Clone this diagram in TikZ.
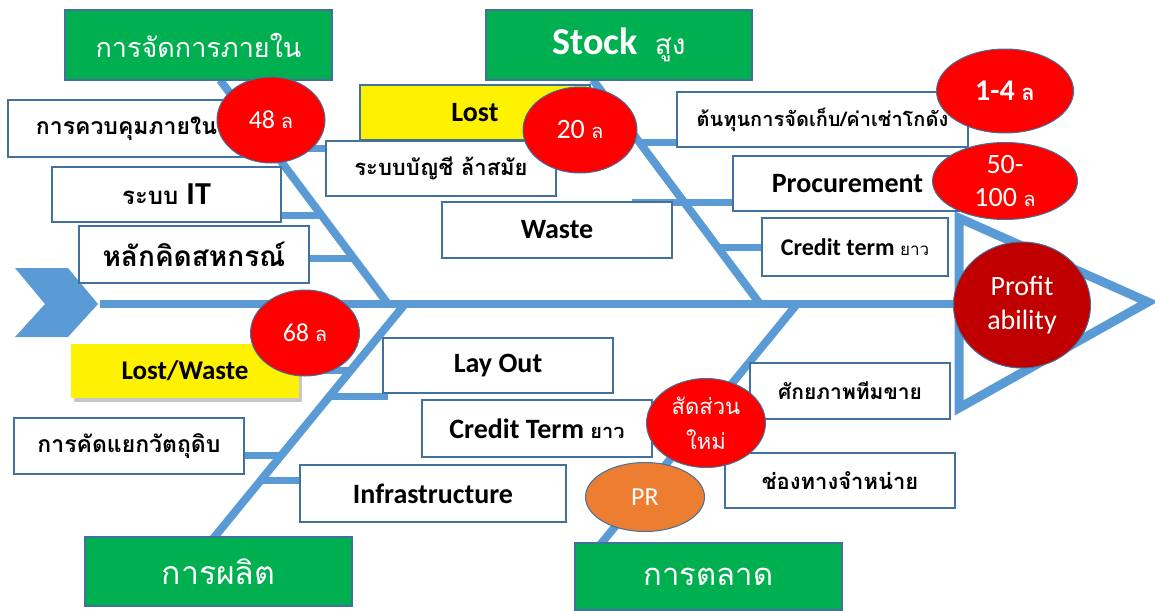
\documentclass[tikz,border=0pt]{standalone}
\usepackage{fontspec}
\setmainfont{Carlito}
\newfontfamily\thai[Script=Thai]{Loma}
\usetikzlibrary{shapes.geometric}
\definecolor{boneblue}{HTML}{5B9BD5}
\definecolor{edgec}{HTML}{41719C}
\definecolor{hgreen}{HTML}{00B050}
\definecolor{dred}{HTML}{C00000}
\definecolor{orng}{HTML}{ED7D31}
\newcommand{\fsz}[1]{\fontsize{#1}{\fpeval{1.2*#1}}\selectfont}
\tikzset{
  bone/.style={line width=8pt, draw=boneblue},
  subbone/.style={line width=7pt, draw=boneblue},
  whitebox/.style={rectangle, draw=edgec, line width=1.2pt, fill=white, inner sep=0pt, align=center, text=black},
  yellowbox/.style={whitebox, fill=yellow},
  hdr/.style={whitebox, fill=hgreen, text=white},
  redell/.style={ellipse, draw=edgec, line width=1pt, fill=red, text=white, inner sep=0pt, align=center},
}
\begin{document}
\begin{tikzpicture}[x=1pt,y=-1pt]
\useasboundingbox (0,0) rectangle (1155,610);
% spine and bones
\coordinate (spL) at (100,304); \coordinate (spR) at (962,304);
\coordinate (ulT) at (220,80);  \coordinate (ulB) at (388,304);
\coordinate (urT) at (593,80);  \coordinate (urB) at (760,304);
\coordinate (llT) at (405,304); \coordinate (llB) at (212,540);
\coordinate (lrT) at (797,304); \coordinate (lrB) at (600,545);
\fill[boneblue] (15,268) -- (68,268) -- (98,304) -- (68,337) -- (15,337) -- (45,304) -- cycle;
\draw[bone] (spL) -- (spR);
\draw[bone] (ulT) -- (ulB);
\draw[bone] (urT) -- (urB);
\draw[bone] (llT) -- (llB);
\draw[bone] (lrT) -- (lrB);
% sub bones
\draw[subbone] (271,148) -- (330,148);
\draw[subbone] (278,215) -- (322,215);
\draw[subbone] (305,258) -- (355,258);
\draw[subbone] (639,142) -- (680,142);
\draw[subbone] (632,202) -- (736,202);
\draw[subbone] (717,247) -- (765,247);
\draw[subbone] (300,370) -- (352,370);
\draw[subbone] (330,396) -- (388,396);
\draw[subbone] (240,455) -- (283,455);
\draw[subbone] (261,480) -- (303,480);
% head
\draw[line width=9pt, boneblue] (959,218) -- (1148,302) -- (959,408) -- cycle;
% headers
\node[hdr, minimum width=267pt, minimum height=70pt, font=\thai\fsz{27}] (hA) at (198.5,45) {การจัดการภายใน};
\node[hdr, minimum width=266pt, minimum height=70pt] (hB) at (619,45) {\fsz{38}\bfseries Stock\ \ {\thai\mdseries\fsz{28}สูง}};
\node[hdr, minimum width=267pt, minimum height=69pt, font=\thai\fsz{32}] (hC) at (218.5,571.5) {การผลิต};
\node[hdr, minimum width=267pt, minimum height=67pt, font=\thai\fsz{31}] (hD) at (708.5,576.5) {การตลาด};
% upper left boxes
\node[whitebox, minimum width=237pt, minimum height=57pt, font=\thai\bfseries\fsz{23}] (b1) at (126.5,128.5) {การควบคุมภายใน};
\node[whitebox, minimum width=229pt, minimum height=55pt] (b2) at (166.5,194.5) {{\thai\bfseries\fsz{24}ระบบ\ }{\bfseries\fsz{32}IT}};
\node[whitebox, minimum width=230pt, minimum height=57pt, font=\thai\bfseries\fsz{28}] (b3) at (194,254.5) {หลักคิดสหกรณ์};
% upper right boxes
\node[yellowbox, minimum width=230pt, minimum height=55pt, font=\bfseries\fsz{28}] (b4) at (475,112.5) {Lost};
\node[whitebox, minimum width=230pt, minimum height=55pt, font=\thai\bfseries\fsz{22}] (b5) at (441,168.5) {ระบบบัญชี ล้าสมัย};
\node[whitebox, minimum width=230pt, minimum height=56pt, font=\bfseries\fsz{28}] (b6) at (557,230) {Waste};
\node[whitebox, minimum width=291pt, minimum height=55pt, font=\thai\bfseries\fsz{20}] (b7) at (822.5,119.5) {ต้นทุนการจัดเก็บ/ค่าเช่าโกดัง};
\node[whitebox, minimum width=229pt, minimum height=55pt, font=\bfseries\fsz{28}] (b8) at (847.5,183.5) {Procurement};
\node[whitebox, minimum width=186pt, minimum height=58pt] (b9) at (855,247) {{\bfseries\fsz{24}Credit term\ }{\thai\fsz{17}ยาว}};
% lower left boxes
\fill[black!22] (74,348) rectangle (302,402);
\node[yellowbox, draw=none, minimum width=228pt, minimum height=54pt, font=\bfseries\fsz{27}] (b10) at (185,371) {Lost/Waste};
\node[whitebox, minimum width=230pt, minimum height=55pt, font=\bfseries\fsz{28}] (b11) at (498,365.5) {Lay Out};
\node[whitebox, minimum width=230pt, minimum height=57pt] (b12) at (537,428.5) {{\bfseries\fsz{28}Credit Term\ }{\thai\bfseries\fsz{20}ยาว}};
\node[whitebox, minimum width=230pt, minimum height=56pt, font=\thai\bfseries\fsz{23}] (b13) at (129,446) {การคัดแยกวัตถุดิบ};
\node[whitebox, minimum width=266pt, minimum height=57pt, font=\bfseries\fsz{28}] (b14) at (433,493.5) {Infrastructure};
% lower right boxes
\node[whitebox, minimum width=200pt, minimum height=56pt, font=\thai\bfseries\fsz{21}] (b15) at (850,391) {ศักยภาพทีมขาย};
\node[whitebox, minimum width=230pt, minimum height=55pt, font=\thai\bfseries\fsz{22}] (b16) at (840,480.5) {ช่องทางจำหน่าย};
% ellipses
\node[redell, minimum width=108pt, minimum height=86pt] (e1) at (271,120) {\fsz{26}48\ {\thai\fsz{20}ล}};
\node[redell, minimum width=114pt, minimum height=86pt] (e2) at (580,130) {\fsz{28}20\ {\thai\fsz{20}ล}};
\node[redell, minimum width=137pt, minimum height=84pt] (e3) at (1005,91) {\bfseries\fsz{30}1-4\ {\thai\fsz{22}ล}};
\node[redell, minimum width=145pt, minimum height=77pt, font=\fsz{28}] (e4) at (1005,181) {50-\\100\ {\thai\fsz{20}ล}};
\node[redell, minimum width=109pt, minimum height=86pt] (e5) at (305,333) {\fsz{26}68\ {\thai\fsz{20}ล}};
\node[redell, minimum width=119pt, minimum height=89pt, font=\thai\fsz{22}] (e6) at (706,423) {สัดส่วน\\[9pt]ใหม่};
\node[redell, fill=orng, minimum width=119pt, minimum height=69pt] (e7) at (645,497) {\fsz{26}PR};
\node[redell, fill=dred, minimum width=137pt, minimum height=126pt, font=\fsz{28}] (e8) at (1022,305) {Profit\\ability};
\end{tikzpicture}
\end{document}
